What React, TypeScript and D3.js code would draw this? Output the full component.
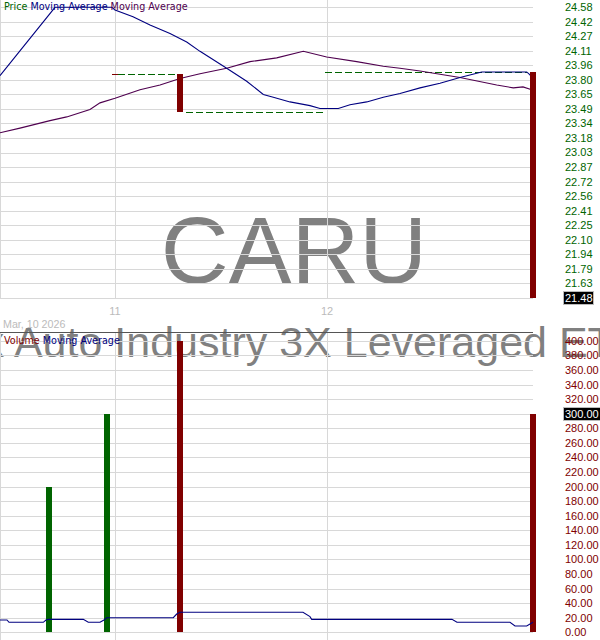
import React from 'react';
import * as d3 from 'd3';

// ---------- data ----------
const symbol = 'CARU';
const fundName = 'Max Auto Industry 3X Leveraged ETN';
const dateLabel = 'Mar, 10 2026';

const xTicks = [11, 12];
const xTickLabels = ['11', '12'];

const priceTickLabels = ['24.58','24.42','24.27','24.11','23.96','23.80','23.65','23.49','23.34','23.18','23.03','22.87','22.72','22.56','22.41','22.25','22.10','21.94','21.79','21.63','21.48'];
const volumeTickLabels = ['400.00','380.00','360.00','340.00','320.00','300.00','280.00','260.00','240.00','220.00','200.00','180.00','160.00','140.00','120.00','100.00','80.00','60.00','40.00','20.00','0.00'];

const barTimes = [11.3066, 12.9717];
const barOpens = [23.87, 23.89];
const barCloses = [23.46, 21.48];
const lastPrice = 21.48;

// carried-forward price (no trade) segments
const carryStart = [10.986, 11.014, 11.335, 11.991];
const carryEnd = [11.012, 11.292, 11.981, 12.943];
const carryPrice = [23.87, 23.87, 23.46, 23.89];
const carryKind = ['open', 'flat', 'flat', 'flat'];

const maBlueT = [10.4575,10.7169,10.9858,11.0,11.0849,11.1651,11.2594,11.3382,11.4009,11.5268,11.6212,11.6995,11.7467,11.8254,11.9198,11.967,12.0533,12.1085,12.1873,12.2655,12.3443,12.4387,12.533,12.6273,12.7297,12.942,12.9575,12.9717];
const maBlueP = [23.85,24.58,24.58,24.55,24.48,24.39,24.30,24.21,24.11,23.93,23.79,23.65,23.62,23.57,23.53,23.50,23.50,23.54,23.57,23.62,23.66,23.72,23.77,23.83,23.89,23.89,23.86,23.79];

const maPurpleT = [10.4575,10.5518,10.6934,10.7721,10.882,10.9292,11.0,11.1179,11.2123,11.3066,11.4009,11.5268,11.6368,11.7627,11.8882,11.9986,12.14,12.2655,12.3443,12.4387,12.6273,12.8005,12.8788,12.9245,12.9655];
const maPurpleP = [23.24,23.29,23.37,23.41,23.49,23.56,23.61,23.70,23.75,23.82,23.87,23.93,24.00,24.04,24.11,24.05,24.00,23.95,23.93,23.90,23.83,23.75,23.72,23.73,23.70];

const volTimes = [10.6886, 10.9622, 11.3066, 12.9717];
const volValues = [200, 300, 400, 300];
const volUp = [true, true, false, false];
const lastVolume = 300;

const volMaT = [10.4575,10.4905,10.5,10.6617,10.6745,10.6853,10.8504,10.874,10.9292,10.9481,10.9608,11.275,11.291,11.3066,11.8867,11.9197,11.9277,12.5896,12.6131,12.8632,12.8868,12.942,12.9717];
const volMaV = [16.9,16.9,13.7,13.7,16.9,17.8,17.8,13.7,13.7,16.9,20.0,20.0,25.1,27.5,27.5,21.5,17.8,17.8,13.7,13.7,8.6,8.6,13.7];

// ---------- styles ----------
const GREEN = '#006400';
const RED = '#800000';
const NAVY = '#000080';
const PURPLE = '#4f004f';
const GRID = '#d8d8d8';
const FONT = '"Liberation Sans", Arial, sans-serif';
const LEGEND_FONT = '"DejaVu Sans", Verdana, sans-serif';

export default function App() {
  const W = 600, H = 640;
  const plotR = 533;
  const x = d3.scaleLinear().domain([10.4575, 12.9717]).range([0, plotR]);
  const yP = d3.scaleLinear().domain([21.48, 24.58]).range([297.7, 7.3]);
  const yV = d3.scaleLinear().domain([0, 400]).range([632.3, 340.9]);

  const priceTickVals = priceTickLabels.map((_, i) => 24.58 - i * 0.155);
  const volTickVals = volumeTickLabels.map((_, i) => 400 - i * 20);

  const line = d3.line<[number, number]>();
  const bluePath = line(maBlueT.map((t, i) => [x(t), yP(maBlueP[i])]));
  const purplePath = line(maPurpleT.map((t, i) => [x(t), yP(maPurpleP[i])]));
  const volMaPath = line(volMaT.map((t, i) => [x(t), yV(volMaV[i])]));

  const barW = 6;
  const labelX = 565;

  return (
    <svg width={W} height={H} style={{ position: 'absolute', left: 0, top: 0, background: '#fff' }}>
      <rect x={0} y={0} width={W} height={H} fill="#fff" />
      {/* watermarks */}
      <text x={294} y={283.3} textAnchor="middle" fontFamily={FONT} fontSize={94} fill="#808080">{symbol}</text>
      <text x={284} y={356.5} textAnchor="middle" fontFamily={FONT} fontSize={43} fill="#808080">{fundName}</text>

      {/* price grid */}
      <g shapeRendering="crispEdges">
        {priceTickVals.map((v, i) => (
          <line key={'pg' + i} x1={0} x2={plotR} y1={Math.round(yP(v)) + 0.5} y2={Math.round(yP(v)) + 0.5} stroke={GRID} />
        ))}
        <line x1={0.5} x2={0.5} y1={0} y2={298} stroke={GRID} />
        {xTicks.map((t, i) => (
          <line key={'pv' + i} x1={Math.round(x(t)) + 0.5} x2={Math.round(x(t)) + 0.5} y1={0} y2={298} stroke={GRID} />
        ))}
        {/* volume grid */}
        {volTickVals.map((v, i) => (
          <line key={'vg' + i} x1={0} x2={plotR} y1={Math.round(yV(v)) + 0.5} y2={Math.round(yV(v)) + 0.5} stroke={GRID} />
        ))}
        <line x1={0.5} x2={0.5} y1={333} y2={H} stroke={GRID} />
        {xTicks.map((t, i) => (
          <line key={'vv' + i} x1={Math.round(x(t)) + 0.5} x2={Math.round(x(t)) + 0.5} y1={333} y2={H} stroke={GRID} />
        ))}
        <line x1={0} x2={plotR} y1={332.5} y2={332.5} stroke="#555" />
      </g>

      {/* carried price segments */}
      {carryStart.map((t0, i) => (
        <line key={'c' + i} x1={x(t0)} x2={x(carryEnd[i])} y1={Math.round(yP(carryPrice[i])) + 0.5} y2={Math.round(yP(carryPrice[i])) + 0.5}
          stroke={carryKind[i] === 'open' ? RED : GREEN} strokeDasharray="7,3" shapeRendering="crispEdges" />
      ))}

      {/* moving averages */}
      <path d={purplePath!} fill="none" stroke={PURPLE} strokeWidth={1.1} />
      <path d={bluePath!} fill="none" stroke={NAVY} strokeWidth={1.1} />

      {/* price bars */}
      <g shapeRendering="crispEdges">
        {barTimes.map((t, i) => {
          const y1 = yP(Math.max(barOpens[i], barCloses[i]));
          const y2 = yP(Math.min(barOpens[i], barCloses[i]));
          return <rect key={'b' + i} x={Math.round(x(t)) - barW / 2} y={y1} width={barW} height={y2 - y1}
            fill={barCloses[i] < barOpens[i] ? RED : GREEN} />;
        })}
      </g>

      {/* volume bars */}
      <g shapeRendering="crispEdges">
        {volTimes.map((t, i) => (
          <rect key={'v' + i} x={Math.round(x(t)) - barW / 2} y={yV(volValues[i])} width={barW} height={yV(0) - yV(volValues[i])}
            fill={volUp[i] ? GREEN : RED} />
        ))}
      </g>
      <path d={volMaPath!} fill="none" stroke={NAVY} strokeWidth={1.1} />

      {/* legends */}
      <text x={4} y={10} fontFamily={LEGEND_FONT} fontSize={9.6}>
        <tspan fill={GREEN}>Price</tspan>
        <tspan fill={NAVY}> Moving Average</tspan>
        <tspan fill={PURPLE}> Moving Average</tspan>
      </text>
      <text x={4} y={344} fontFamily={LEGEND_FONT} fontSize={9.6}>
        <tspan fill={RED}>Volume</tspan>
        <tspan fill={NAVY}> Moving Average</tspan>
      </text>

      {/* x axis labels */}
      {xTicks.map((t, i) => (
        <text key={'xl' + i} x={x(t)} y={315.3} textAnchor="middle" fontFamily={FONT} fontSize={11} fill="#bbbbbb">{xTickLabels[i]}</text>
      ))}
      <text x={3} y={327.5} fontFamily={FONT} fontSize={10.7} fill="#bbbbbb">{dateLabel}</text>

      {/* price axis */}
      {priceTickLabels.map((lab, i) => {
        const v = priceTickVals[i];
        const isLast = Math.abs(v - lastPrice) < 0.01;
        const yy = yP(v);
        return (
          <g key={'pl' + i}>
            {isLast && <rect x={563.5} y={yy - 6.5} width={30} height={13} fill="#000" stroke="#bbb" shapeRendering="crispEdges" />}
            <text x={labelX} y={yy} dy="0.36em" fontFamily={FONT} fontSize={11} fill={isLast ? '#fff' : GREEN}>{lab}</text>
          </g>
        );
      })}

      {/* volume axis */}
      {volumeTickLabels.map((lab, i) => {
        const v = volTickVals[i];
        const isLast = v === lastVolume;
        const yy = yV(v);
        return (
          <g key={'vl' + i}>
            {isLast && <rect x={563.5} y={yy - 6.5} width={37} height={13} fill="#000" stroke="#bbb" shapeRendering="crispEdges" />}
            <text x={labelX} y={yy} dy="0.36em" fontFamily={FONT} fontSize={11} fill={isLast ? '#fff' : RED}>{lab}</text>
          </g>
        );
      })}
    </svg>
  );
}
